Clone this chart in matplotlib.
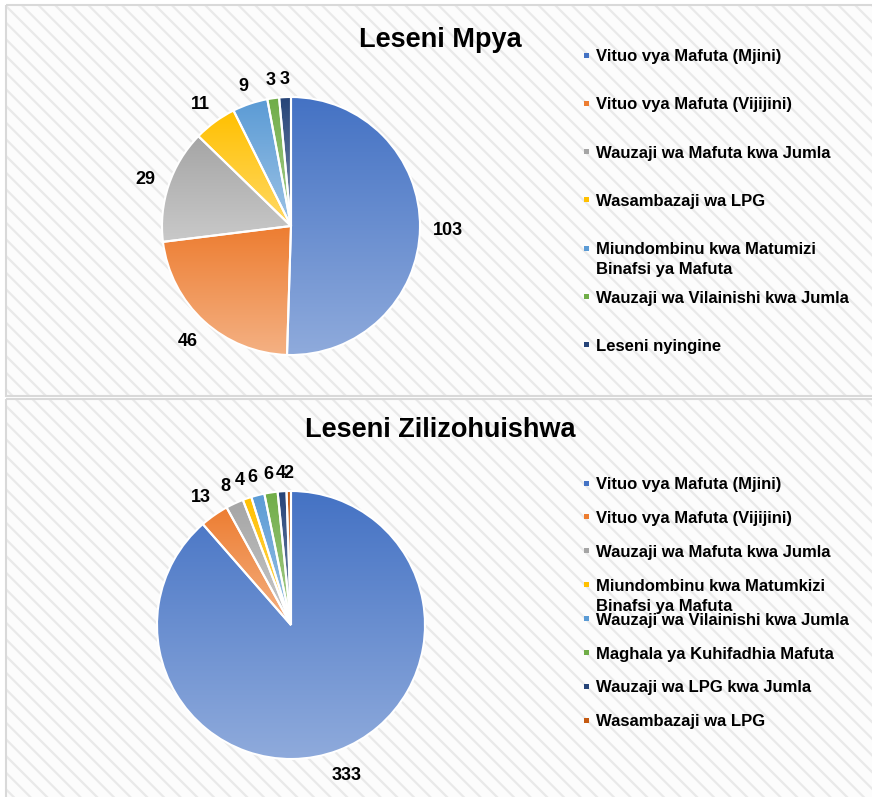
import numpy as np
import matplotlib
matplotlib.use('Agg')
import matplotlib.pyplot as plt
from matplotlib.patches import Rectangle
from matplotlib.colors import to_rgb

plt.rcParams['font.family'] = ['Liberation Sans', 'DejaVu Sans']
plt.rcParams['hatch.linewidth'] = 1.6

W, H = 872, 797

# Leseni Mpya
new_labels = ['Vituo vya Mafuta (Mjini)',
              'Vituo vya Mafuta (Vijijini)',
              'Wauzaji wa Mafuta kwa Jumla',
              'Wasambazaji wa LPG',
              'Miundombinu kwa Matumizi\nBinafsi ya Mafuta',
              'Wauzaji wa Vilainishi kwa Jumla',
              'Leseni nyingine']
new_values = [103, 46, 29, 11, 9, 3, 3]
new_colors = ['#4472C4', '#ED7D31', '#A5A5A5', '#FFC000', '#5B9BD5', '#70AD47', '#264478']

# Leseni Zilizohuishwa
renew_labels = ['Vituo vya Mafuta (Mjini)',
                'Vituo vya Mafuta (Vijijini)',
                'Wauzaji wa Mafuta kwa Jumla',
                'Miundombinu kwa Matumkizi\nBinafsi ya Mafuta',
                'Wauzaji wa Vilainishi kwa Jumla',
                'Maghala ya Kuhifadhia Mafuta',
                'Wauzaji wa LPG kwa Jumla',
                'Wasambazaji wa LPG']
renew_values = [333, 13, 8, 4, 6, 6, 4, 2]
renew_colors = ['#4472C4', '#ED7D31', '#A5A5A5', '#FFC000', '#5B9BD5', '#70AD47', '#264478', '#C55A11']


fig = plt.figure(figsize=(W / 100, H / 100), dpi=100)

# background axes in pixel coordinates
bg = fig.add_axes([0, 0, 1, 1])
bg.set_xlim(0, W)
bg.set_ylim(H, 0)
bg.axis('off')

for y0, y1 in [(5, 396), (399, 810)]:
    bg.add_patch(Rectangle((6, y0), W + 20, y1 - y0, facecolor='#FCFCFC',
                           edgecolor='#E9E9E9', hatch='\\\\', linewidth=0))
    bg.add_patch(Rectangle((6, y0), W + 20, y1 - y0, facecolor='none',
                           edgecolor='#D9D9D9', linewidth=1.5))

LABEL_FS = 13
fs_px = LABEL_FS * 100 / 72


def gradient_pie(cx, cy, r, values, colors):
    half = 1.5 * r
    ax = fig.add_axes([(cx - half) / W, (H - cy - half) / H, 2 * half / W, 2 * half / H])
    wedges, _ = ax.pie(values, startangle=90, counterclock=False,
                       wedgeprops=dict(edgecolor='white', linewidth=1.5))
    grad = np.linspace(0, 1, 256)[:, None, None]
    for w, c, v in zip(wedges, colors, values):
        top = np.array(to_rgb(c))
        bottom = top + 0.4 * (1 - top)
        img = top + grad * (bottom - top)
        ext = w.get_path().get_extents()
        im = ax.imshow(img, extent=[ext.x0, ext.x1, ext.y0, ext.y1], origin='upper',
                       aspect='auto', interpolation='bilinear', zorder=0)
        im.set_clip_path(w)
        w.set_facecolor('none')

        # outside-end data label, box edge kept a fixed gap from the rim
        mid = np.deg2rad((w.theta1 + w.theta2) / 2)
        ux, uy = np.cos(mid), np.sin(mid)
        hw = len(str(v)) * 0.556 * fs_px / 2
        hh = 0.716 * fs_px / 2
        d = (r + 13 + abs(ux) * hw + abs(uy) * hh) / r
        ax.text(d * ux, d * uy - hh / r, str(v), fontsize=LABEL_FS, fontweight='bold',
                ha='center', va='baseline')
    ax.set_xlim(-1.5, 1.5)
    ax.set_ylim(-1.5, 1.5)
    ax.set_aspect('equal')
    ax.axis('off')
    return ax


def legend(labels, colors, y_start, step):
    for i, (lab, c) in enumerate(zip(labels, colors)):
        y = y_start + i * step
        bg.add_patch(Rectangle((584, y - 2.5), 5, 5, facecolor=c, edgecolor='none'))
        for j, line in enumerate(lab.split('\n')):
            bg.text(596, y + 6 + j * 20, line, fontsize=12, fontweight='bold',
                    ha='left', va='baseline')


gradient_pie(291, 226, 129, new_values, new_colors)
gradient_pie(291, 625, 134, renew_values, renew_colors)

bg.text(440, 40, 'Leseni Mpya', fontsize=19.5, fontweight='bold', ha='center', va='center')
bg.text(440, 430, 'Leseni Zilizohuishwa', fontsize=19.5, fontweight='bold', ha='center', va='center')

legend(new_labels, new_colors, 55, 48.3)
legend(renew_labels, renew_colors, 483, 33.9)

fig.savefig('out.png', dpi=100)
